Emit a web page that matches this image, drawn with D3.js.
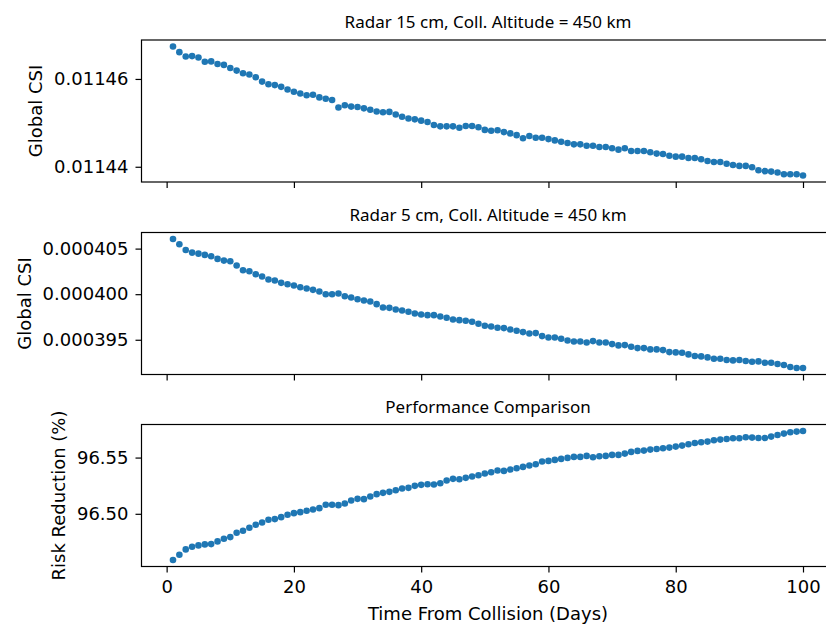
<!DOCTYPE html>
<html>
<head>
<meta charset="utf-8">
<script src="https://cdn.jsdelivr.net/npm/d3@7"></script>
<style>
  body { margin: 0; background: #fff; }
  svg text { font-family: "DejaVu Sans", sans-serif; fill: #000; }
</style>
</head>
<body>
<div id="chart"></div>
<script>
// days after the collision, 1..100
const days = [
  1, 2, 3, 4, 5, 6, 7, 8, 9, 10, 11, 12, 13, 14, 15, 16, 17, 18, 19, 20,
  21, 22, 23, 24, 25, 26, 27, 28, 29, 30, 31, 32, 33, 34, 35, 36, 37, 38, 39, 40,
  41, 42, 43, 44, 45, 46, 47, 48, 49, 50, 51, 52, 53, 54, 55, 56, 57, 58, 59, 60,
  61, 62, 63, 64, 65, 66, 67, 68, 69, 70, 71, 72, 73, 74, 75, 76, 77, 78, 79, 80,
  81, 82, 83, 84, 85, 86, 87, 88, 89, 90, 91, 92, 93, 94, 95, 96, 97, 98, 99, 100
];

// global CSI, radar 15 cm
const csi15 = [
  0.0114674, 0.0114661, 0.0114651, 0.0114652, 0.0114649, 0.0114639, 0.0114640, 0.0114634, 0.0114632, 0.0114625,
  0.0114619, 0.0114613, 0.0114610, 0.0114604, 0.0114594, 0.0114588, 0.0114586, 0.0114582, 0.0114576, 0.0114571,
  0.0114567, 0.0114563, 0.0114564, 0.0114558, 0.0114555, 0.0114552, 0.0114535, 0.0114540, 0.0114537, 0.0114536,
  0.0114533, 0.0114530, 0.0114526, 0.0114524, 0.0114525, 0.0114519, 0.0114514, 0.0114510, 0.0114508, 0.0114505,
  0.0114502, 0.0114495, 0.0114492, 0.0114492, 0.0114492, 0.0114489, 0.0114493, 0.0114493, 0.0114490, 0.0114484,
  0.0114482, 0.0114483, 0.0114479, 0.0114476, 0.0114472, 0.0114465, 0.0114470, 0.0114466, 0.0114466, 0.0114463,
  0.0114460, 0.0114457, 0.0114454, 0.0114451, 0.0114451, 0.0114448, 0.0114448, 0.0114445, 0.0114445, 0.0114442,
  0.0114439, 0.0114442, 0.0114436, 0.0114436, 0.0114436, 0.0114433, 0.0114430, 0.0114429, 0.0114425, 0.0114423,
  0.0114423, 0.0114420, 0.0114420, 0.0114417, 0.0114413, 0.0114411, 0.0114411, 0.0114407, 0.0114404, 0.0114402,
  0.0114402, 0.0114399, 0.0114392, 0.0114390, 0.0114389, 0.0114387, 0.0114383, 0.0114383, 0.0114383, 0.0114380
];

// global CSI, radar 5 cm
const csi5 = [
  0.000406059, 0.000405475, 0.000404855, 0.000404563, 0.000404453, 0.000404307, 0.000404161, 0.000403869, 0.000403687, 0.000403614,
  0.000403139, 0.000402628, 0.000402519, 0.000402190, 0.000401935, 0.000401606, 0.000401497, 0.000401241, 0.000401095, 0.000400949,
  0.000400767, 0.000400621, 0.000400475, 0.000400292, 0.000400000, 0.000400000, 0.000400073, 0.000399781, 0.000399635, 0.000399452,
  0.000399306, 0.000399197, 0.000398905, 0.000398540, 0.000398503, 0.000398321, 0.000398211, 0.000398065, 0.000397883, 0.000397773,
  0.000397700, 0.000397700, 0.000397554, 0.000397408, 0.000397226, 0.000397153, 0.000397080, 0.000396970, 0.000396751, 0.000396532,
  0.000396459, 0.000396313, 0.000396277, 0.000396131, 0.000395985, 0.000395839, 0.000395693, 0.000395729, 0.000395401, 0.000395255,
  0.000395255, 0.000395109, 0.000394926, 0.000394817, 0.000394817, 0.000394707, 0.000394853, 0.000394707, 0.000394707, 0.000394525,
  0.000394379, 0.000394415, 0.000394233, 0.000394087, 0.000394087, 0.000393941, 0.000393941, 0.000393868, 0.000393649, 0.000393612,
  0.000393576, 0.000393393, 0.000393211, 0.000393174, 0.000393065, 0.000392919, 0.000392919, 0.000392773, 0.000392736, 0.000392773,
  0.000392663, 0.000392590, 0.000392627, 0.000392481, 0.000392481, 0.000392335, 0.000392225, 0.000392006, 0.000391897, 0.000391897
];

// risk reduction in percent
const riskReduction = [
  96.45888, 96.46361, 96.46834, 96.47071, 96.47189, 96.47278, 96.47308, 96.47544, 96.47781, 96.47929,
  96.48314, 96.48491, 96.48757, 96.49024, 96.49231, 96.49467, 96.49527, 96.49704, 96.49911, 96.50059,
  96.50148, 96.50266, 96.50385, 96.50503, 96.50799, 96.50799, 96.50769, 96.50917, 96.51183, 96.51331,
  96.51302, 96.51538, 96.51746, 96.51864, 96.51953, 96.52101, 96.52249, 96.52308, 96.52485, 96.52574,
  96.52633, 96.52604, 96.52722, 96.52959, 96.53107, 96.53077, 96.53195, 96.53314, 96.53432, 96.53580,
  96.53698, 96.53846, 96.53817, 96.53935, 96.54053, 96.54172, 96.54290, 96.54408, 96.54645, 96.54704,
  96.54793, 96.54882, 96.54970, 96.55059, 96.55059, 96.55148, 96.55030, 96.55118, 96.55148, 96.55237,
  96.55237, 96.55355, 96.55503, 96.55592, 96.55621, 96.55710, 96.55769, 96.55828, 96.55888, 96.55976,
  96.56065, 96.56183, 96.56302, 96.56361, 96.56420, 96.56539, 96.56598, 96.56657, 96.56716, 96.56716,
  96.56805, 96.56775, 96.56746, 96.56746, 96.56864, 96.57012, 96.57130, 96.57249, 96.57308, 96.57367
];

// tick labels
const xTicks = [0, 20, 40, 60, 80, 100];
const csi15Ticks = [0.01144, 0.01146];
const csi5Ticks = [0.000395, 0.000400, 0.000405];
const riskTicks = [96.50, 96.55];

const titles = ["Radar 15 cm, Coll. Altitude = 450 km", "Radar 5 cm, Coll. Altitude = 450 km", "Performance Comparison"];
const yLabels = ["Global CSI", "Global CSI", "Risk Reduction (%)"];
const xLabel = "Time From Collision (Days)";

const width = 826, height = 628;
const dotColor = "#1f77b4";

// panel layout (pixels)
const plotLeft = 141.5, plotRight = 834.5;
const panelTops = [40, 232.5, 424.5];
const panelH = 142;

const panels = [
  {values: csi15, ticks: csi15Ticks, fmt: d3.format(".5f")},
  {values: csi5, ticks: csi5Ticks, fmt: d3.format(".6f")},
  {values: riskReduction, ticks: riskTicks, fmt: d3.format(".2f")}
];

const svg = d3.select("#chart").append("svg")
    .attr("width", width)
    .attr("height", height);

// x scale with matplotlib style 5% margins
const xExt = d3.extent(days);
const xPad = (xExt[1] - xExt[0]) * 0.05;
const x = d3.scaleLinear()
    .domain([xExt[0] - xPad, xExt[1] + xPad])
    .range([plotLeft, plotRight]);

panels.forEach((p, i) => {
    let top = panelTops[i];
    let g = svg.append("g").attr("class", "panel");

    let ext = d3.extent(p.values);
    let pad = (ext[1] - ext[0]) * 0.05;
    let y = d3.scaleLinear()
        .domain([ext[0] - pad, ext[1] + pad])
        .range([top + panelH, top]);

    // dots
    g.selectAll("circle")
        .data(days)
        .enter().append("circle")
        .attr("cx", d => x(d))
        .attr("cy", (d, j) => y(p.values[j]))
        .attr("r", 3.3)
        .attr("fill", dotColor);

    // y axis
    let yAxis = g.append("g")
        .attr("transform", `translate(${plotLeft},0)`)
        .call(d3.axisLeft(y).tickValues(p.ticks).tickFormat(p.fmt).tickSize(6).tickPadding(7));
    yAxis.select(".domain").remove();
    yAxis.selectAll("line").attr("stroke", "#000").attr("stroke-width", 1.2);
    yAxis.selectAll("text")
        .style("font-family", "DejaVu Sans")
        .style("font-size", "18px")
        .attr("fill", "#000");

    // x axis (labels only on the bottom panel)
    let xAxis = g.append("g")
        .attr("transform", `translate(0,${top + panelH})`)
        .call(d3.axisBottom(x).tickValues(xTicks).tickFormat(i === 2 ? d3.format("d") : "").tickSize(6).tickPadding(7.5));
    xAxis.select(".domain").remove();
    xAxis.selectAll("line").attr("stroke", "#000").attr("stroke-width", 1.2);
    xAxis.selectAll("text")
        .style("font-family", "DejaVu Sans")
        .style("font-size", "18px")
        .attr("fill", "#000");

    // spines
    g.append("rect")
        .attr("x", plotLeft)
        .attr("y", top)
        .attr("width", plotRight - plotLeft)
        .attr("height", panelH)
        .attr("fill", "none")
        .attr("stroke", "#000")
        .attr("stroke-width", 1.2);

    // title
    g.append("text")
        .attr("x", (plotLeft + plotRight) / 2)
        .attr("y", top - 11.7)
        .attr("text-anchor", "middle")
        .style("font-family", "'Noto Sans', sans-serif")
        .style("font-size", "17px")
        .attr("fill", "#222")
        .text(titles[i]);

    // y label, placed left of the tick labels
    let labLeft = d3.min(yAxis.selectAll("text").nodes(), n => n.getBBox().x) + plotLeft;
    g.append("text")
        .attr("transform", `translate(${labLeft - 12},${top + panelH / 2}) rotate(-90)`)
        .attr("text-anchor", "middle")
        .style("font-size", "18px")
        .text(yLabels[i]);
});

svg.append("text")
    .attr("x", (plotLeft + plotRight) / 2)
    .attr("y", 620)
    .attr("text-anchor", "middle")
    .style("font-size", "18px")
    .text(xLabel);
</script>
</body>
</html>
